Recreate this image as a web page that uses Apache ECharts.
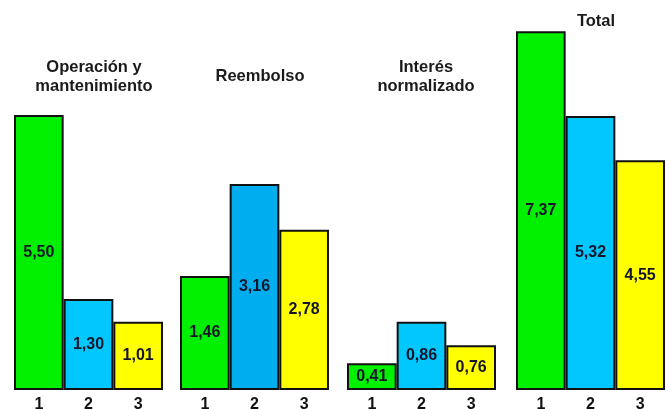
<!DOCTYPE html>
<html>
<head>
<meta charset="utf-8">
<script src="https://cdn.jsdelivr.net/npm/echarts@6/dist/echarts.min.js"></script>
<style>
  html, body { margin: 0; padding: 0; background: #ffffff; }
  #chart { width: 670px; height: 409px; }
</style>
</head>
<body>
<div id="chart"></div>
<script>
// ---- data ----
const categories = ['1', '2', '3'];
const panelTitles = ['Operación y\nmantenimiento', 'Reembolso', 'Interés\nnormalizado', 'Total'];
// printed values inside the bars
const opValues = [5.50, 1.30, 1.01];
const reembolsoValues = [1.46, 3.16, 2.78];
const interesValues = [0.41, 0.86, 0.76];
const totalValues = [7.37, 5.32, 4.55];
// bar heights as drawn in the picture (same vertical scale for all panels)
const opHeights = [5.65, 1.87, 1.40];
const reembolsoHeights = [2.34, 4.23, 3.29];
const interesHeights = [0.55, 1.40, 0.92];
const totalHeights = [7.37, 5.63, 4.72];

const panelValues = [opValues, reembolsoValues, interesValues, totalValues];
const panelHeights = [opHeights, reembolsoHeights, interesHeights, totalHeights];

// ---- layout / style ----
const FONT = 'Liberation Sans, Arial, sans-serif';
const gridLefts = [14, 180, 347, 516];
const gridWidth = 149;
const titleCenters = [89, 255, 421, 591];
const titleTops = [53, 62, 53, 7];
const barColors = [
  ['#00f000', '#00c8ff', '#ffff00'],
  ['#00f000', '#00aeef', '#ffff00'],
  ['#00f000', '#00c8ff', '#ffff00'],
  ['#00f000', '#00c8ff', '#ffff00']
];

const grids = [], xAxes = [], yAxes = [], series = [], titles = [];
panelHeights.forEach((heights, i) => {
  grids.push({ left: gridLefts[i], width: gridWidth, top: 20, bottom: 19, containLabel: false, outerBoundsMode: 'none' });
  xAxes.push({
    type: 'category', gridIndex: i, data: categories,
    axisLine: { show: false }, axisTick: { show: false },
    axisLabel: { color: '#111', fontFamily: FONT, fontWeight: 'bold', fontSize: 16, margin: 7 }
  });
  yAxes.push({
    type: 'value', gridIndex: i, min: 0, max: 7.6, show: false,
    splitLine: { show: false }
  });
  series.push({
    type: 'bar', xAxisIndex: i, yAxisIndex: i,
    barCategoryGap: '0%',
    animation: false,
    data: heights.map((h, j) => ({
      value: h,
      itemStyle: { color: barColors[i][j], borderColor: '#111', borderWidth: 2 }
    })),
    label: {
      show: true, position: 'inside',
      color: '#15152a', fontFamily: FONT, fontWeight: 'bold', fontSize: 16,
      formatter: (p) => panelValues[i][p.dataIndex].toFixed(2).replace('.', ',')
    }
  });
  titles.push({
    text: panelTitles[i], left: titleCenters[i], top: titleTops[i], textAlign: 'center',
    textStyle: { color: '#1a1a1a', fontFamily: FONT, fontWeight: 'bold', fontSize: 16.5, lineHeight: 19 }
  });
});

const chart = echarts.init(document.getElementById('chart'), null, { renderer: 'canvas' });
chart.setOption({
  backgroundColor: '#ffffff',
  animation: false,
  title: titles,
  grid: grids,
  xAxis: xAxes,
  yAxis: yAxes,
  series: series
});
</script>
</body>
</html>
